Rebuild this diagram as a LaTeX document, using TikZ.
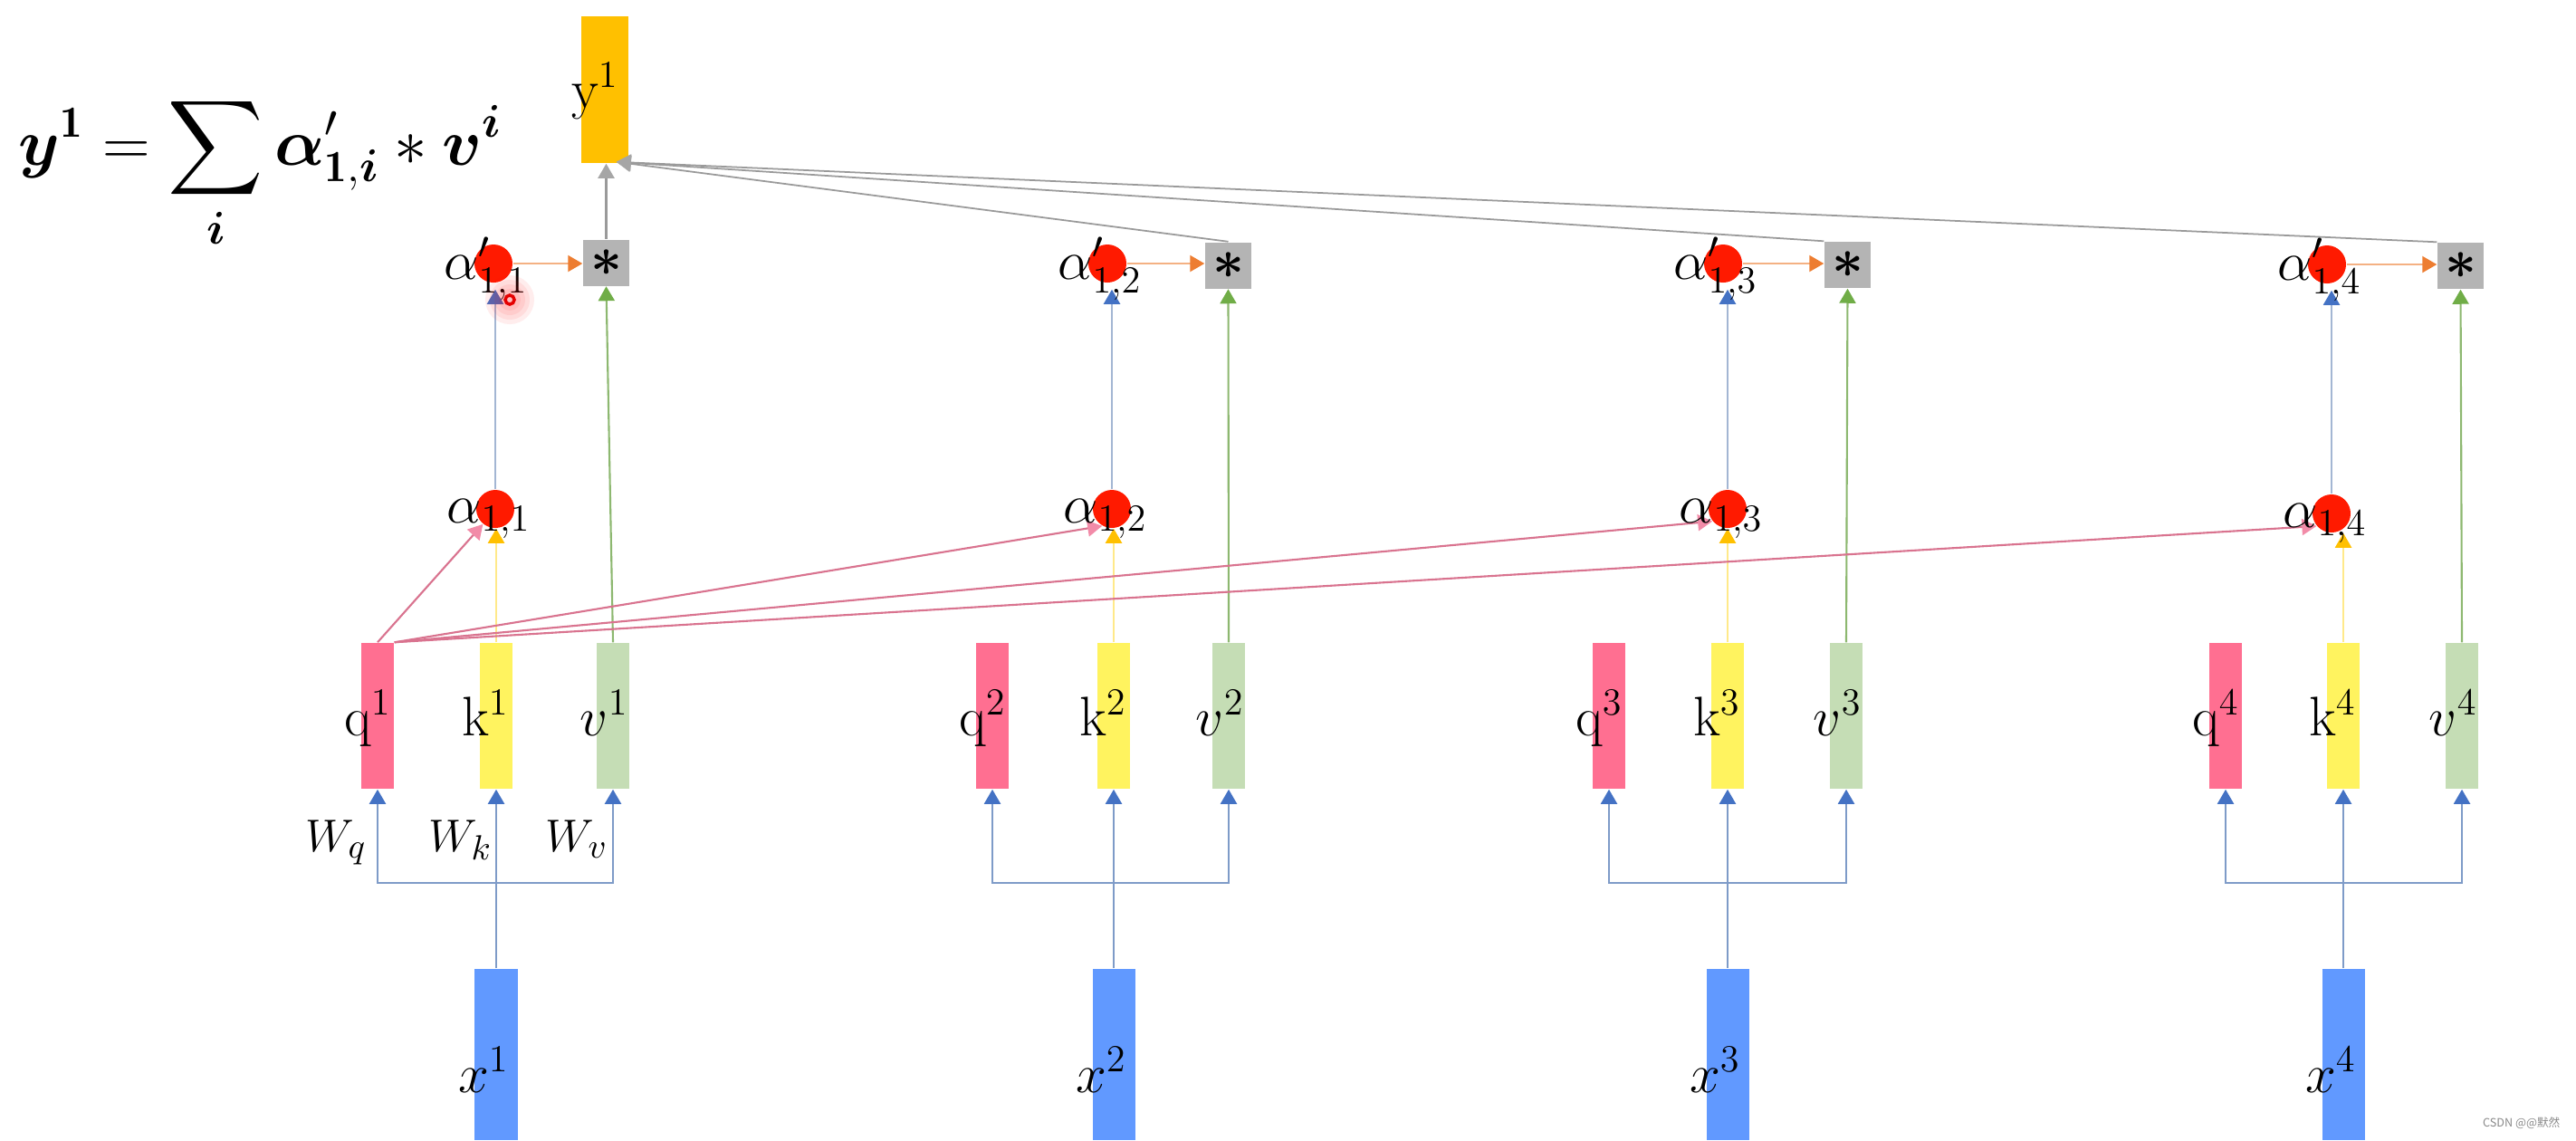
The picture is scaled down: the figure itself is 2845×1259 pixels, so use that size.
\documentclass[tikz,border=0pt]{standalone}
\usepackage{fontspec}
\usepackage{amsmath}
\usetikzlibrary{arrows.meta}
\newfontfamily\cjk{Noto Sans CJK SC}
\definecolor{qpink}{HTML}{FF6F91}
\definecolor{kyel}{HTML}{FFF35F}
\definecolor{vgreen}{HTML}{C5DDB5}
\definecolor{xblue}{HTML}{6199FF}
\definecolor{ygold}{HTML}{FFC000}
\definecolor{mulgray}{HTML}{B4B4B4}
\definecolor{dotred}{HTML}{FF1A00}
\definecolor{wlinec}{HTML}{7E9BC8}
\definecolor{wheadc}{HTML}{4472C4}
\definecolor{alinec}{HTML}{A3B6D3}
\definecolor{glinec}{HTML}{8DB870}
\definecolor{gheadc}{HTML}{70AD47}
\definecolor{olinec}{HTML}{F4B183}
\definecolor{oheadc}{HTML}{ED7D31}
\definecolor{plinec}{HTML}{D9738F}
\definecolor{pheadc}{HTML}{F28BA8}
\definecolor{ylinec}{HTML}{FFE98A}
\definecolor{yheadc}{HTML}{FFC000}
\definecolor{slinec}{HTML}{9A9A9A}
\definecolor{sheadc}{HTML}{A6A6A6}
\definecolor{wmgray}{HTML}{8A8A8A}
\tikzset{
  barbox/.style={rectangle,inner sep=0pt,minimum width=0.36cm,minimum height=1.61cm},
  xbarbox/.style={rectangle,inner sep=0pt,minimum width=0.47cm,minimum height=1.89cm,fill=xblue},
  reddot/.style={circle,fill=dotred,inner sep=0pt,minimum size=0.42cm},
  mulbox/.style={rectangle,fill=mulgray,inner sep=0pt,minimum size=0.51cm},
  lbltext/.style={inner sep=0pt},
  conn/.style 2 args={draw=#1,line width=0.6pt,-{Triangle[length=0.16cm,width=0.18cm,color=#2]}}
}
\newcommand\mystar{\fontsize{17}{20}\selectfont$\boldsymbol{\ast}$}
\newcommand\myformula{\fontsize{20}{24}\selectfont$\displaystyle \boldsymbol{y}^{\mathbf{1}}=\sum_{\boldsymbol{i}}\boldsymbol{\alpha}^{\prime}_{\mathbf{1},\boldsymbol{i}}\ast\boldsymbol{v}^{\boldsymbol{i}}$}
\newcommand\lblA[1]{\fontsize{17.5}{20}\selectfont$#1$}
\newcommand\lblW[1]{\fontsize{15}{18}\selectfont$#1$}
\begin{document}
\begin{tikzpicture}[x=0.01cm,y=-0.01cm]
\fill[white] (0,0) rectangle (2845,1259);
\useasboundingbox (0,0) rectangle (2845,1259);
\node[rectangle,fill=ygold,inner sep=0pt,minimum width=0.52cm,minimum height=1.62cm] (y1) at (668,99) {};
\foreach \i/\qx/\kx/\vx/\sx/\sy/\px/\py/\ax/\ay in {
  1/417/548/677/669.5/290/545/291/547/562,
  2/1096/1230/1357/1356.5/293/1223/291/1228/562,
  3/1777/1908/2039/2040.5/292.5/1903/291/1908/562,
  4/2458/2588/2719/2717.5/293.5/2570/292/2575/567}{
  \node[barbox,fill=qpink] (q\i) at (\qx,790.5) {};
  \node[barbox,fill=kyel] (k\i) at (\kx,790.5) {};
  \node[barbox,fill=vgreen] (v\i) at (\vx,790.5) {};
  \node[xbarbox] (x\i) at (\kx,1164.5) {};
  \node[mulbox] (s\i) at (\sx,\sy) {\mystar};
  \node[reddot] (p\i) at (\px,\py) {};
  \node[reddot] (a\i) at (\ax,\ay) {};
  \coordinate (b\i) at (\kx,975);
}
\foreach \i in {1,...,4}{
  \draw[conn={wlinec}{wheadc}] (x\i.north) -- (k\i.south);
  \draw[conn={wlinec}{wheadc}] (b\i) -| (q\i.south);
  \draw[conn={wlinec}{wheadc}] (b\i) -| (v\i.south);
  \draw[conn={ylinec}{yheadc}] (k\i.north) -- (k\i.north |- a\i.south);
  \draw[conn={alinec}{wheadc},shorten >=0.07cm] (a\i.north) -- (a\i.north |- p\i.south);
  \draw[conn={olinec}{oheadc}] (p\i.east) -- (p\i.east -| s\i.west);
  \draw[conn={glinec}{gheadc}] (v\i.north) -- (s\i.south);
}
\draw[conn={plinec}{pheadc}] (q1.north) -- (a1.231);
\draw[conn={plinec}{pheadc}] (q1.north east) -- (a2.240);
\draw[conn={plinec}{pheadc}] (q1.north east) -- (a3.219);
\draw[conn={plinec}{pheadc}] (q1.north east) -- (a4.220);
\draw[conn={slinec}{sheadc}] (s1.north) -- (s1.north |- y1.south);
\draw[conn={slinec}{sheadc},line width=0.5pt] (s2.north) -- ([xshift=-0.14cm,yshift=0.02cm]y1.south east);
\draw[conn={slinec}{sheadc},line width=0.5pt] (s3.north west) -- ([xshift=-0.14cm,yshift=0.02cm]y1.south east);
\draw[conn={slinec}{sheadc},line width=0.5pt] (s4.north west) -- ([xshift=-0.14cm,yshift=0.02cm]y1.south east);
\node[lbltext,anchor=base east] (ly1) at (684,119) {\lblA{\mathrm{y}^{1}}};
\foreach \i/\qx/\kx/\vx/\px/\py/\ax/\ay in {
  1/417/548/677/545/291/547/562,
  2/1096/1230/1357/1223/291/1228/562,
  3/1777/1908/2039/1903/291/1908/562,
  4/2458/2588/2719/2570/292/2575/567}{
  \node[lbltext,anchor=base east] (lq\i) at ({\qx+16},812) {\lblA{\mathrm{q}^{\i}}};
  \node[lbltext,anchor=base east] (lk\i) at ({\kx+15},812) {\lblA{\mathrm{k}^{\i}}};
  \node[lbltext,anchor=base east] (lv\i) at ({\vx+18},812) {\lblA{v^{\i}}};
  \node[lbltext,anchor=base east] (lx\i) at ({\kx+15},1206) {\lblA{x^{\i}}};
  \node[lbltext,anchor=base west] (la\i) at ({\ax-54},{\ay+15}) {\lblA{\alpha_{1,\i}}};
  \node[lbltext,anchor=base west] (lp\i) at ({\px-55},{\py+17}) {\lblA{\alpha^{\prime}_{1,\i}}};
}
\node[lbltext,anchor=base west] (wq) at (337,940) {\lblW{W_q}};
\node[lbltext,anchor=base west] (wk) at (473,940) {\lblW{W_k}};
\node[lbltext,anchor=base west] (wv) at (602,940) {\lblW{W_v}};
\foreach \r in {0.27,0.22,0.17,0.12}{
  \fill[red,fill opacity=0.07] (563,331) circle[radius=\r cm];
}
\draw[red!90!black,line width=0.035cm] (563,331) circle[radius=0.05cm];
\node[anchor=base east,inner sep=0pt,text=wmgray] (wm) at (2828,1244) {\cjk\fontsize{3.6}{4}\selectfont CSDN @@默然};
\node[lbltext,anchor=base west] (eq) at (20,182) {\myformula};
\end{tikzpicture}
\end{document}
